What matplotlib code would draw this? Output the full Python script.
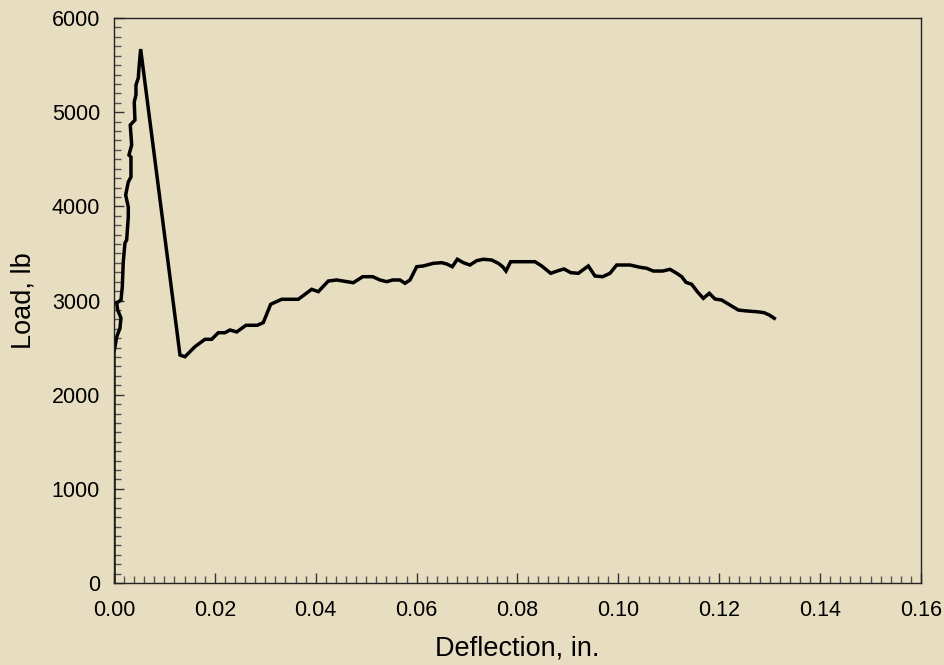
import matplotlib.pyplot as plt
from matplotlib.ticker import MultipleLocator

# load-deflection curve
deflection = [0.0, 0.0, 0.00054, 0.00119, 0.00139, 0.00073, 0.00054, 0.00139, 0.00165, 0.00184,
              0.00218, 0.00252, 0.00284, 0.00284, 0.00232, 0.00284, 0.00337, 0.00337, 0.00297,
              0.00351, 0.00323, 0.00416, 0.00402, 0.00436, 0.00436, 0.00482, 0.00496, 0.00529,
              0.01309, 0.01408, 0.01606, 0.01804, 0.01937, 0.02068, 0.02201, 0.02300, 0.02433,
              0.02617, 0.02841, 0.02960, 0.03107, 0.03325, 0.03654, 0.03920, 0.04051, 0.04249,
              0.04416, 0.04745, 0.04931, 0.05129, 0.05274, 0.05407, 0.05526, 0.05670, 0.05770,
              0.05869, 0.06002, 0.06133, 0.06331, 0.06497, 0.06597, 0.06708, 0.06807, 0.06926,
              0.07058, 0.07191, 0.07322, 0.07489, 0.07620, 0.07707, 0.07772, 0.07865, 0.08050,
              0.08347, 0.08480, 0.08658, 0.08809, 0.08922, 0.09055, 0.09206, 0.09404, 0.09537,
              0.09690, 0.09834, 0.09967, 0.10231, 0.10429, 0.10562, 0.10693, 0.10879, 0.11024,
              0.11157, 0.11256, 0.11341, 0.11454, 0.11565, 0.11684, 0.11803, 0.11916, 0.12049,
              0.12213, 0.12378, 0.12545, 0.12743, 0.12888, 0.12993, 0.13092]
load = [0, 2450, 2613, 2708, 2814, 2899, 2974, 3005, 3143, 3409,
        3611, 3643, 3887, 3993, 4121, 4259, 4312, 4524, 4545,
        4652, 4864, 4917, 5108, 5183, 5289, 5363, 5469, 5670,
        2421, 2403, 2510, 2588, 2588, 2658, 2658, 2687, 2666,
        2737, 2737, 2765, 2960, 3013, 3013, 3119, 3094, 3207,
        3218, 3189, 3253, 3253, 3218, 3200, 3218, 3218, 3183,
        3218, 3359, 3367, 3395, 3402, 3388, 3359, 3438, 3402,
        3377, 3423, 3438, 3430, 3395, 3359, 3313, 3412, 3412,
        3412, 3367, 3289, 3317, 3335, 3296, 3289, 3367, 3260,
        3253, 3289, 3377, 3377, 3353, 3342, 3313, 3313, 3331,
        3289, 3253, 3193, 3172, 3094, 3023, 3077, 3016, 3005,
        2952, 2899, 2889, 2881, 2871, 2846, 2811]

bg = '#e7ddc0'
plt.rcParams['font.family'] = ['Liberation Sans', 'DejaVu Sans']

fig = plt.figure(figsize=(9.45, 6.65), dpi=100, facecolor=bg)
ax = fig.add_axes([0.1206, 0.1233, 0.8540, 0.8496])
ax.set_facecolor(bg)

ax.plot(deflection, load, color='k', linewidth=2.5, solid_joinstyle='miter')

ax.set_xlim(0, 0.16)
ax.set_ylim(0, 6000)
ax.xaxis.set_major_locator(MultipleLocator(0.02))
ax.xaxis.set_minor_locator(MultipleLocator(0.002))
ax.yaxis.set_major_locator(MultipleLocator(1000))
ax.yaxis.set_minor_locator(MultipleLocator(100))
ax.xaxis.set_major_formatter(plt.FuncFormatter(lambda v, p: '%.2f' % v))

ax.tick_params(which='major', direction='in', length=7, width=1, color='#333333',
               labelsize=15.5, pad=10, top=False, right=False)
ax.tick_params(axis='x', which='major', pad=12)
ax.tick_params(which='minor', direction='in', length=5, width=1, color='#555555',
               top=False, right=False)
for s in ax.spines.values():
    s.set_linewidth(1.0)
    s.set_color('#222222')

ax.set_xlabel('Deflection, in.', fontsize=19.5, labelpad=11)
ax.set_ylabel('Load, lb', fontsize=19.5, labelpad=11)

fig.savefig('out.png', dpi=100, facecolor=bg)
